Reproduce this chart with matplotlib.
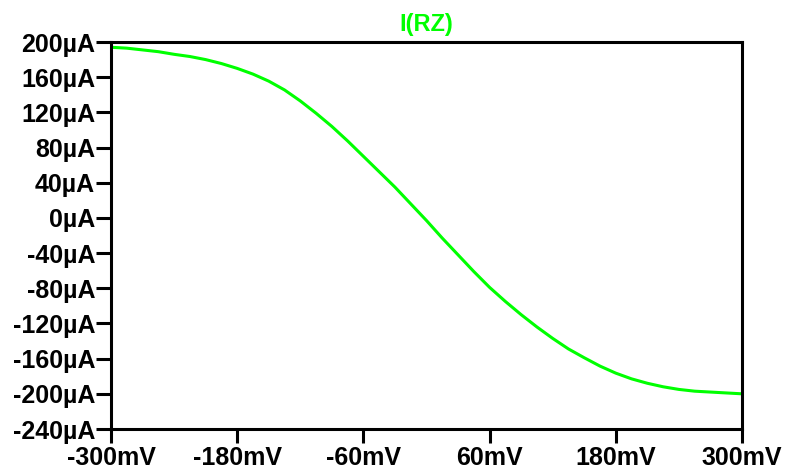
import numpy as np
import matplotlib
matplotlib.use('Agg')
import matplotlib.pyplot as plt
from matplotlib.ticker import MultipleLocator, FuncFormatter

# sweep voltage (mV) and current through RZ (uA)
v_mv = [-300, -285, -270, -255, -240, -225, -210, -195, -180, -165, -150,
        -135, -120, -105, -90, -75, -60, -45, -30, -15, 0,
        15, 30, 45, 60, 75, 90, 105, 120, 135, 150,
        165, 180, 195, 210, 225, 240, 255, 270, 285, 300]
i_ua = [194, 193, 191, 189, 186, 183.5, 180, 175.5, 170, 163.5, 155.5,
        145.5, 133, 119, 104, 87.5, 70, 52.5, 35, 16, -3,
        -23, -42, -61, -79, -95, -110, -124, -137, -149, -159,
        -168.5, -176.5, -183, -188, -192, -195, -197, -198, -199, -200]

trace_name = 'I(RZ)'
x_ticks = [-300, -180, -60, 60, 180, 300]

plt.rcParams['font.family'] = ['Liberation Sans', 'DejaVu Sans']
plt.rcParams['font.weight'] = 'bold'

fig = plt.figure(figsize=(7.85, 4.75), dpi=100)
ax = fig.add_axes([111/785, 1 - 429/475, (742 - 111)/785, (429 - 42)/475])

ax.plot(v_mv, i_ua, color='#00ff00', lw=2.2, solid_capstyle='butt')

ax.set_xlim(-300, 300)
ax.set_ylim(-240, 200)
ax.set_xticks(x_ticks)
ax.yaxis.set_major_locator(MultipleLocator(40))
ax.xaxis.set_major_formatter(FuncFormatter(lambda v, p: '%dmV' % round(v)))
ax.yaxis.set_major_formatter(FuncFormatter(lambda v, p: '%d\u00b5A' % round(v)))

for s in ax.spines.values():
    s.set_linewidth(2.2)
ax.tick_params(axis='y', direction='out', length=11, width=2.2, pad=0.5,
               labelsize=18)
ax.tick_params(axis='x', direction='out', length=10, width=2.2, pad=2,
               labelsize=18)
for lab in ax.get_xticklabels() + ax.get_yticklabels():
    lab.set_fontweight('bold')

ax.set_title(trace_name, color='#00ff00', fontsize=17, fontweight='bold', pad=8)

fig.savefig('out.png', dpi=100)
